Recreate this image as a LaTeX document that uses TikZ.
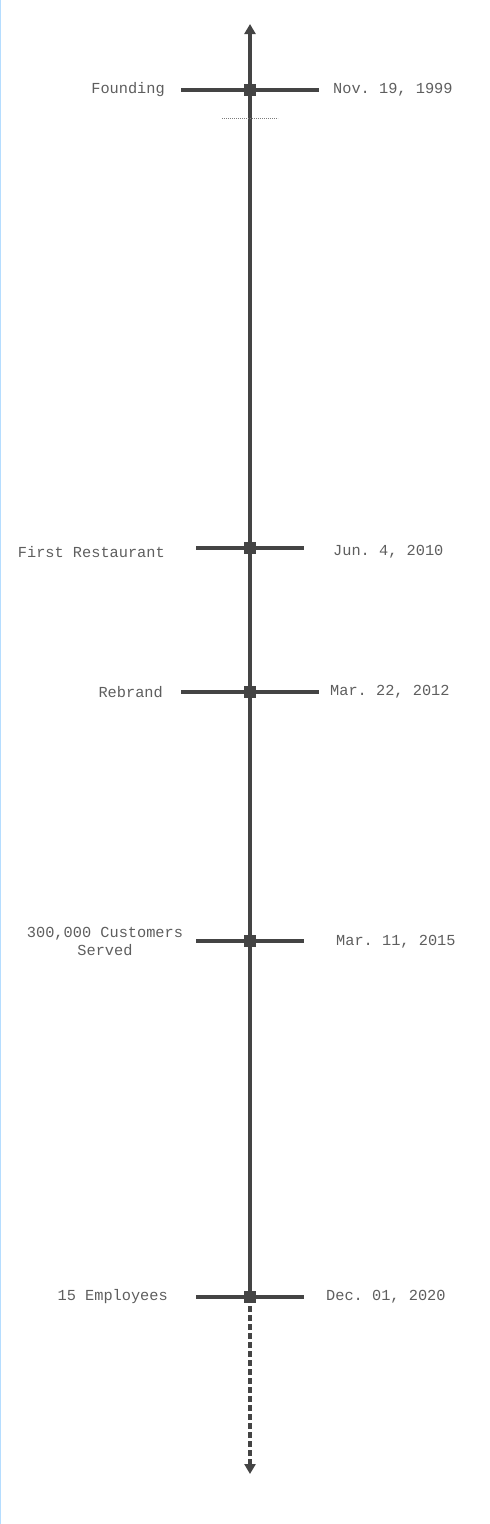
\documentclass[tikz,border=0pt]{standalone}
\usepackage{fontspec}
\setmonofont{Liberation Mono}
\usetikzlibrary{arrows.meta}
\definecolor{axisgray}{HTML}{444444}
\definecolor{textgray}{HTML}{5E5E5E}
\definecolor{edgeblue}{HTML}{B5DDFF}

\begin{document}
\begin{tikzpicture}[x=1pt, y=-1pt,
  marker/.style={fill=axisgray, minimum size=12pt, inner sep=0pt},
  evtext/.style={font=\ttfamily\fontsize{15.3}{18}\selectfont, text=textgray, inner sep=0pt},
  tickline/.style={draw=axisgray, line width=3.2pt},
  axisline/.style={draw=axisgray, line width=3.2pt}]
        \useasboundingbox (0,0) rectangle (490,1524);
        \draw[edgeblue, line width=1.2pt] (0.6,0) -- (0.6,1524);

        % event centres on the axis
        \coordinate (found) at (250,90);
        \coordinate (first) at (250,548);
        \coordinate (rebrand) at (250,692);
        \coordinate (served) at (250,941);
        \coordinate (staff) at (250,1297);
        \coordinate (axtop) at (250,24);
        \coordinate (axbot) at (250,1474);

        % axis
        \draw[axisline, -{Triangle[length=10pt, width=11pt]}] (staff) -- (axtop);
        \draw[axisline, dash pattern=on 6pt off 3pt, -{Triangle[length=10pt, width=11pt]}] (staff) -- (axbot);
        \draw[axisgray!70, line width=0.9pt, dash pattern=on 1.2pt off 0.8pt] (222,118) coordinate (gapL) -- (278,118) coordinate (gapR);

        % ticks
        \draw[tickline] (181,90) coordinate (foundL) -- (found) -- (319,90) coordinate (foundR);
        \draw[tickline] (196,548) coordinate (firstL) -- (first) -- (304,548) coordinate (firstR);
        \draw[tickline] (181,692) coordinate (rebrandL) -- (rebrand) -- (319,692) coordinate (rebrandR);
        \draw[tickline] (196,941) coordinate (servedL) -- (served) -- (304,941) coordinate (servedR);
        \draw[tickline] (196,1297) coordinate (staffL) -- (staff) -- (304,1297) coordinate (staffR);

        % markers
        \node[marker] (foundM) at (found) {};
        \node[marker] (firstM) at (first) {};
        \node[marker] (rebrandM) at (rebrand) {};
        \node[marker] (servedM) at (served) {};
        \node[marker] (staffM) at (staff) {};

        % labels
        \node[evtext, anchor=east] (foundT) at (165,90) {Founding};
        \node[evtext, anchor=west] (foundD) at (333,90) {Nov. 19, 1999};
        \node[evtext, anchor=east] (firstT) at (165,552) {First Restaurant};
        \node[evtext, anchor=west] (firstD) at (333,552) {Jun. 4, 2010};
        \node[evtext, anchor=east] (rebrandT) at (163,692) {Rebrand};
        \node[evtext, anchor=west] (rebrandD) at (330,692) {Mar. 22, 2012};
        \node[evtext, align=center] (servedT) at (105,941) {300,000 Customers\\Served};
        \node[evtext, anchor=west] (servedD) at (336,942) {Mar. 11, 2015};
        \node[evtext, anchor=east] (staffT) at (168,1297) {15 Employees};
        \node[evtext, anchor=west] (staffD) at (326,1297) {Dec. 01, 2020};
\end{tikzpicture}
\end{document}
